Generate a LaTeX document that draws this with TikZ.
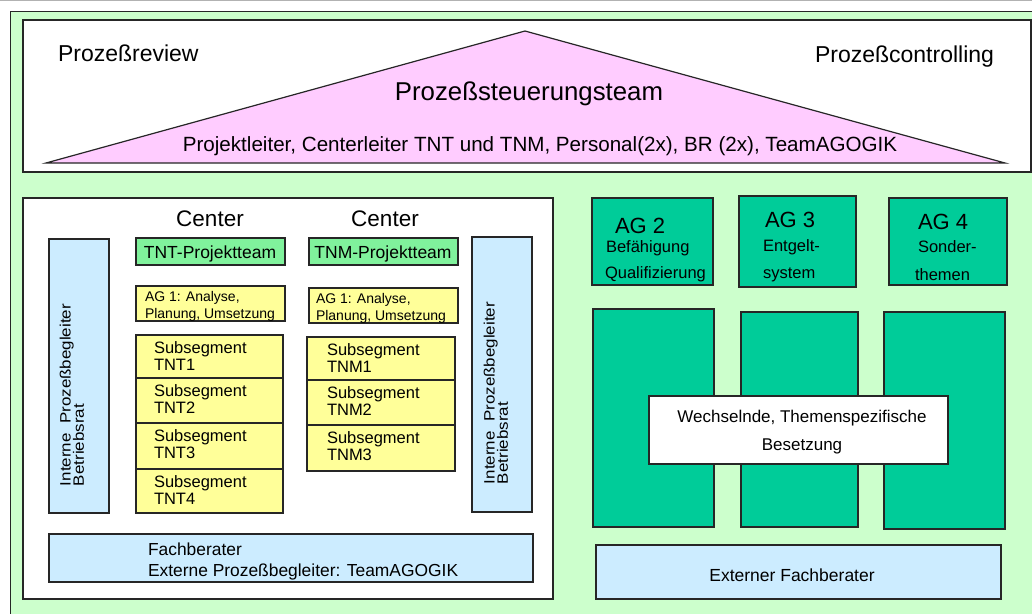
\documentclass[tikz,border=0pt]{standalone}
\usepackage{fontspec}
\setmainfont{Liberation Sans}
\usepackage{graphicx}

\definecolor{bgGreen}{HTML}{CCFFCC}
\definecolor{teal}{HTML}{00CC99}
\definecolor{pinkFill}{HTML}{FFCCFF}
\definecolor{skyFill}{HTML}{CCECFF}
\definecolor{lemon}{HTML}{FFFF99}
\definecolor{teamGreen}{HTML}{80F29C}

\newcommand{\setfs}[1]{\fontsize{#1}{#1}\selectfont}

\begin{document}
\begin{tikzpicture}[x=1pt,y=-1pt,
  frame/.style={draw=black!85, line width=1.2pt},
  txt/.style={inner sep=0pt, outer sep=0pt, text=black},
  lbl/.style={txt, anchor=base west},
  clbl/.style={txt, anchor=base},
]
\useasboundingbox (0,0) rectangle (1032,613);
\clip (0,0) rectangle (1032,613);
\fill[white] (0,0) rectangle (1032,613);
\draw[black!30, line width=1pt] (0,0.5) -- (1032,0.5);

% outer frame
\path[frame, fill=bgGreen] (10.5,11.5) rectangle (1045,625);

% top band with the steering triangle
\path[frame, fill=white] (23,20) rectangle (1031,172);
\path[frame, fill=pinkFill] (46,163) -- (525,31) -- (1005,163) -- cycle;
\node[lbl, font=\setfs{23}] (review) at (58,61) {Prozeßreview};
\node[lbl, font=\setfs{23}] (controlling) at (815,62) {Prozeßcontrolling};
\node[clbl, font=\setfs{25.8}] (steer) at (529,100) {Prozeßsteuerungsteam};
\node[clbl, font=\setfs{20.6}] (members) at (540,151)
  {Projektleiter, Centerleiter TNT und TNM, Personal(2x), BR (2x), TeamAGOGIK};

% left panel: centers
\path[frame, fill=white] (23,198) rectangle (553,599);
\node[clbl, font=\setfs{22.5}] (cTNT) at (210,226) {Center};
\node[clbl, font=\setfs{22.5}] (cTNM) at (385,226) {Center};

\path[frame, fill=teamGreen] (136,238) rectangle (285,265);
\path[frame, fill=teamGreen] (309,238) rectangle (458,265);
\node[clbl, font=\setfs{17.5}] (ptTNT) at (210,258) {TNT-Projektteam};
\node[clbl, font=\setfs{17.5}] (ptTNM) at (383,258) {TNM-Projektteam};

\path[frame, fill=lemon] (136,286) rectangle (285,321);
\path[frame, fill=lemon] (309,288) rectangle (458,323);
\node[lbl, font=\setfs{14}] (ag1a) at (145,301) {AG 1: Analyse,};
\node[lbl, font=\setfs{14}] (ag1b) at (145,318) {Planung, Umsetzung};
\node[lbl, font=\setfs{14}] (ag1c) at (316,303) {AG 1: Analyse,};
\node[lbl, font=\setfs{14}] (ag1d) at (316,320) {Planung, Umsetzung};

% subsegments TNT
\foreach \ya/\yb/\k in {335/378/1, 378/423/2, 423/469/3, 469/513/4}{
  \path[frame, fill=lemon] (136,\ya) rectangle (283,\yb);
  \node[lbl, font=\setfs{16.5}] (tnt\k a) at (154,\ya+18) {Subsegment};
  \node[lbl, font=\setfs{16.5}] (tnt\k b) at (154,\ya+35) {TNT\k};
}
% subsegments TNM
\foreach \ya/\yb/\k in {337/380/1, 380/425/2, 425/471/3}{
  \path[frame, fill=lemon] (307,\ya) rectangle (455,\yb);
  \node[lbl, font=\setfs{16.5}] (tnm\k a) at (327,\ya+18) {Subsegment};
  \node[lbl, font=\setfs{16.5}] (tnm\k b) at (327,\ya+35) {TNM\k};
}

% internal process companions
\path[frame, fill=skyFill] (49,239) rectangle (109,513);
\path[frame, fill=skyFill] (472,237) rectangle (532,512);
\node[txt, rotate=90, anchor=west, font=\setfs{15}] (ipL) at (74,486)
  {\scalebox{1.13}[1]{\begin{tabular}{@{}l@{}}Interne\ \ Prozeßbegleiter\\[-2pt]Betriebsrat\end{tabular}}};
\node[txt, rotate=90, anchor=west, font=\setfs{15}] (ipR) at (498,484)
  {\scalebox{1.13}[1]{\begin{tabular}{@{}l@{}}Interne\ \ Prozeßbegleiter\\[-2pt]Betriebsrat\end{tabular}}};

% consultants
\path[frame, fill=skyFill] (49,534) rectangle (533,582);
\node[lbl, font=\setfs{17.4}] (fb1) at (148,555) {Fachberater};
\node[lbl, font=\setfs{17.4}] (fb2) at (148,576) {Externe Prozeßbegleiter: TeamAGOGIK};

% right side: working groups
\path[frame, fill=teal] (592,198) rectangle (713,285);
\path[frame, fill=teal] (739,196) rectangle (856,287);
\path[frame, fill=teal] (889,198) rectangle (1007,285);
\node[lbl, font=\setfs{22}] (ag2) at (615,233) {AG 2};
\node[lbl, font=\setfs{16.5}] (ag2a) at (606,252) {Befähigung};
\node[lbl, font=\setfs{16.5}] (ag2b) at (605,278) {Qualifizierung};
\node[lbl, font=\setfs{22}] (ag3) at (765,227) {AG 3};
\node[lbl, font=\setfs{16.5}] (ag3a) at (763,251) {Entgelt-};
\node[lbl, font=\setfs{16.5}] (ag3b) at (763,278) {system};
\node[lbl, font=\setfs{22}] (ag4) at (918,229) {AG 4};
\node[lbl, font=\setfs{16.5}] (ag4a) at (918,252) {Sonder-};
\node[lbl, font=\setfs{16.5}] (ag4b) at (915,280) {themen};

\path[frame, fill=teal] (593,309) rectangle (714,527);
\path[frame, fill=teal] (741,312) rectangle (858,527);
\path[frame, fill=teal] (884,312) rectangle (1005,529);
\path[frame, fill=white] (649,396) rectangle (948,464);
\node[clbl, font=\setfs{17}] (wb1) at (802,422) {Wechselnde, Themenspezifische};
\node[clbl, font=\setfs{17}] (wb2) at (802,450) {Besetzung};

\path[frame, fill=skyFill] (596,545) rectangle (1001,599);
\node[clbl, font=\setfs{17.5}] (extfb) at (792,581) {Externer Fachberater};
\end{tikzpicture}
\end{document}
